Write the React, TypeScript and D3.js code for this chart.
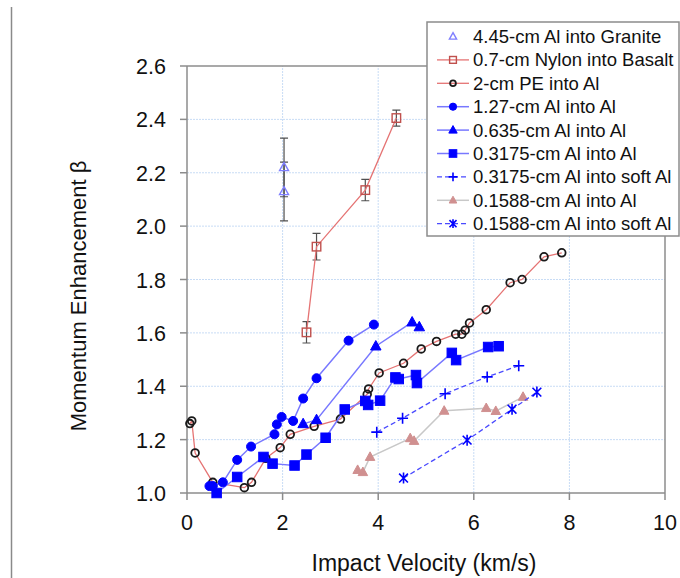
import React from "react";
import * as d3 from "d3";

// ---------- data ----------
const xTicks = [0, 2, 4, 6, 8, 10];
const yTicks = [1.0, 1.2, 1.4, 1.6, 1.8, 2.0, 2.2, 2.4, 2.6];

const graniteX = [2.03, 2.03];
const graniteY = [2.22, 2.13];
const graniteErr = [0.11, 0.11];

const nylonX = [2.5, 2.71, 3.73, 4.38];
const nylonY = [1.602, 1.923, 2.135, 2.405];
const nylonErr = [0.04, 0.05, 0.04, 0.03];

const peX = [0.06, 0.1, 0.17, 0.54, 1.2, 1.35, 1.65, 1.95, 2.16, 2.66, 3.21, 3.77, 3.8, 4.02, 4.53, 4.9, 5.22, 5.62, 5.75, 5.82, 5.91, 6.26, 6.76, 7.01, 7.47, 7.84];
const peY = [1.26, 1.27, 1.15, 1.04, 1.02, 1.04, 1.13, 1.17, 1.22, 1.25, 1.277, 1.37, 1.39, 1.45, 1.486, 1.54, 1.568, 1.595, 1.595, 1.61, 1.637, 1.687, 1.788, 1.8, 1.885, 1.9];

const al127X = [0.47, 0.54, 0.75, 1.05, 1.34, 1.83, 1.88, 1.98, 2.22, 2.43, 2.71, 3.38, 3.91];
const al127Y = [1.026, 1.026, 1.04, 1.124, 1.174, 1.22, 1.257, 1.285, 1.27, 1.354, 1.43, 1.571, 1.631];

const al0635X = [2.43, 2.71, 3.95, 4.71, 4.86];
const al0635Y = [1.259, 1.274, 1.55, 1.64, 1.622];

const al03175X = [0.62, 1.05, 1.6, 1.79, 2.25, 2.5, 2.9, 3.3, 3.73, 3.79, 4.04, 4.36, 4.43, 4.79, 4.81, 5.54, 5.63, 6.3, 6.52];
const al03175Y = [1.0, 1.06, 1.135, 1.11, 1.103, 1.144, 1.207, 1.313, 1.345, 1.33, 1.346, 1.433, 1.427, 1.442, 1.412, 1.525, 1.498, 1.547, 1.55];

const soft03175X = [3.97, 4.51, 5.4, 6.28, 6.94];
const soft03175Y = [1.228, 1.28, 1.372, 1.435, 1.477];

const al01588X = [3.57, 3.68, 3.83, 4.67, 4.75, 5.38, 6.26, 6.46, 7.03];
const al01588Y = [1.086, 1.078, 1.135, 1.205, 1.195, 1.308, 1.318, 1.307, 1.36];

const soft01588X = [4.53, 5.86, 6.8, 7.32];
const soft01588Y = [1.056, 1.198, 1.314, 1.378];

const legendLabels = [
  "4.45-cm Al into Granite",
  "0.7-cm Nylon into Basalt",
  "2-cm PE into Al",
  "1.27-cm Al into Al",
  "0.635-cm Al into Al",
  "0.3175-cm Al into Al",
  "0.3175-cm Al into soft Al",
  "0.1588-cm Al into Al",
  "0.1588-cm Al into soft Al",
];

// ---------- styles ----------
type Style = {
  marker: string;
  mFill: string;
  mStroke: string;
  mSize: number;
  line: string | null;
  dash?: string;
  lw: number;
};
const styles: Style[] = [
  { marker: "triangle", mFill: "none", mStroke: "#7f7fff", mSize: 9, line: null, lw: 1 },
  { marker: "square", mFill: "none", mStroke: "#c0504d", mSize: 8.5, line: "#e57373", lw: 1.3 },
  { marker: "circle", mFill: "none", mStroke: "#1a1a1a", mSize: 9.5, line: "#e57373", lw: 1.3 },
  { marker: "circle", mFill: "#0000ff", mStroke: "#0000ff", mSize: 9, line: "#7878ff", lw: 1.5 },
  { marker: "triangle", mFill: "#0000ff", mStroke: "#0000ff", mSize: 10.5, line: "#7878ff", lw: 1.5 },
  { marker: "square", mFill: "#0000ff", mStroke: "#0000ff", mSize: 9.5, line: "#7878ff", lw: 1.5 },
  { marker: "plus", mFill: "none", mStroke: "#0000ff", mSize: 11, line: "#4a4aff", dash: "5,3", lw: 1.3 },
  { marker: "triangle", mFill: "#d09090", mStroke: "#d09090", mSize: 9.5, line: "#c8c8c8", lw: 1.5 },
  { marker: "star", mFill: "none", mStroke: "#0000ff", mSize: 11, line: "#4a4aff", dash: "5,3", lw: 1.3 },
];

const W = 680;
const H = 578;
const x = d3.scaleLinear().domain([0, 10]).range([187, 665]);
const y = d3.scaleLinear().domain([1.0, 2.6]).range([493, 66]);
const FONT = "'Liberation Sans', Arial, Helvetica, sans-serif";

function Marker({ cx, cy, s }: { cx: number; cy: number; s: Style }) {
  const r = s.mSize / 2;
  const open = s.mFill === "none";
  const sw = open ? (s.marker === "circle" ? 1.8 : 1.4) : 1;
  if (s.marker === "circle") {
    return <circle cx={cx} cy={cy} r={open ? r - 0.9 : r} fill={s.mFill} stroke={s.mStroke} strokeWidth={sw} />;
  }
  if (s.marker === "square") {
    return <rect x={cx - r} y={cy - r} width={s.mSize} height={s.mSize} fill={s.mFill} stroke={s.mStroke} strokeWidth={sw} />;
  }
  if (s.marker === "triangle") {
    const h = s.mSize * 0.9;
    const p = `M${cx},${cy - h * 0.6}L${cx + r},${cy + h * 0.4}L${cx - r},${cy + h * 0.4}Z`;
    return <path d={p} fill={s.mFill} stroke={s.mStroke} strokeWidth={sw} />;
  }
  if (s.marker === "plus") {
    return <path d={`M${cx - r},${cy}H${cx + r}M${cx},${cy - r}V${cy + r}`} stroke={s.mStroke} strokeWidth={1.6} fill="none" />;
  }
  const k = r * 0.8;
  return (
    <path
      d={`M${cx - k},${cy - k}L${cx + k},${cy + k}M${cx + k},${cy - k}L${cx - k},${cy + k}M${cx},${cy - r}V${cy + r}`}
      stroke={s.mStroke}
      strokeWidth={1.6}
      fill="none"
    />
  );
}

function Series({ xs, ys, s }: { xs: number[]; ys: number[]; s: Style }) {
  const pts = xs.map((v, i) => [v, ys[i]] as [number, number]);
  const line = d3
    .line<[number, number]>()
    .x((d) => x(d[0]))
    .y((d) => y(d[1]));
  return (
    <g>
      {s.line && <path d={line(pts) || ""} fill="none" stroke={s.line} strokeWidth={s.lw} strokeDasharray={s.dash} />}
      {pts.map((d, i) => (
        <Marker key={i} cx={x(d[0])} cy={y(d[1])} s={s} />
      ))}
    </g>
  );
}

function ErrorBars({ xs, ys, es }: { xs: number[]; ys: number[]; es: number[] }) {
  return (
    <g stroke="#505050" strokeWidth={1.2} fill="none">
      {xs.map((v, i) => {
        const cx = x(v);
        const y1 = y(ys[i] + es[i]);
        const y2 = y(ys[i] - es[i]);
        return <path key={i} d={`M${cx},${y1}V${y2}M${cx - 4},${y1}H${cx + 4}M${cx - 4},${y2}H${cx + 4}`} />;
      })}
    </g>
  );
}

export default function App() {
  const seriesX = [graniteX, nylonX, peX, al127X, al0635X, al03175X, soft03175X, al01588X, soft01588X];
  const seriesY = [graniteY, nylonY, peY, al127Y, al0635Y, al03175Y, soft03175Y, al01588Y, soft01588Y];
  const drawOrder = [7, 8, 6, 2, 5, 4, 3, 1, 0];
  const [x0, x1] = x.range();
  const [yb, yt] = y.range();
  const legX = 427;
  const legY = 22;
  const legW = 252;
  const legH = 214;
  const rowY0 = 36.5;
  const rowStep = 23.4;
  return (
    <div style={{ position: "absolute", left: 0, top: 0, width: W, height: H, background: "#fff" }}>
      <svg width={W} height={H} style={{ display: "block" }} fontFamily={FONT}>
        <rect width={W} height={H} fill="#fff" />
        <line x1={11.5} x2={11.5} y1={7} y2={H} stroke="#8a8a8a" strokeWidth={1.5} />

        <g stroke="#c8dcf5" strokeWidth={1} strokeDasharray="2,1">
          {yTicks.filter((t) => t > 1.0 && t < 2.6).map((t) => (
            <line key={"gy" + t} x1={x0} x2={x1} y1={y(t)} y2={y(t)} />
          ))}
          {xTicks.filter((t) => t > 0 && t < 10).map((t) => (
            <line key={"gx" + t} x1={x(t)} x2={x(t)} y1={yb} y2={yt} />
          ))}
        </g>

        <g stroke="#8c8c8c" strokeWidth={1.5} fill="none">
          <line x1={x0} x2={x1} y1={yt} y2={yt} />
          <line x1={x1} x2={x1} y1={yt} y2={yb} />
          <line x1={x0} x2={x1} y1={yb} y2={yb} />
          <line x1={x0} x2={x0} y1={yt} y2={yb} />
          {yTicks.map((t) => (
            <line key={"ty" + t} x1={x0 - 7} x2={x0} y1={y(t)} y2={y(t)} />
          ))}
          {xTicks.map((t) => (
            <line key={"tx" + t} x1={x(t)} x2={x(t)} y1={yb} y2={yb + 7} />
          ))}
        </g>

        <g fontSize={21.5} fill="#111">
          {yTicks.map((t) => (
            <text key={"ly" + t} x={166} y={y(t) + 8} textAnchor="end">
              {t.toFixed(1)}
            </text>
          ))}
          {xTicks.map((t) => (
            <text key={"lx" + t} x={x(t)} y={530} textAnchor="middle">
              {t}
            </text>
          ))}
        </g>

        <text x={424} y={571} textAnchor="middle" fontSize={23} fill="#111">
          Impact Velocity (km/s)
        </text>
        <text transform={`translate(86,296) rotate(-90)`} textAnchor="middle" fontSize={22} fill="#111">
          Momentum Enhancement β
        </text>

        <ErrorBars xs={nylonX} ys={nylonY} es={nylonErr} />
        <ErrorBars xs={graniteX} ys={graniteY} es={graniteErr} />
        {drawOrder.map((i) => (
          <Series key={i} xs={seriesX[i]} ys={seriesY[i]} s={styles[i]} />
        ))}

        <rect x={legX} y={legY} width={legW} height={legH} fill="#fff" stroke="#8c8c8c" strokeWidth={1.5} />
        {legendLabels.map((lab, i) => {
          const s = styles[i];
          const ry = rowY0 + i * rowStep;
          const small: Style = { ...s, mSize: s.mSize * 0.8 };
          return (
            <g key={lab}>
              {s.line && <line x1={437} x2={469} y1={ry} y2={ry} stroke={s.line} strokeWidth={s.lw} strokeDasharray={s.dash} />}
              <Marker cx={453} cy={ry} s={small} />
              <text x={473} y={ry + 6.5} fontSize={18.5} fill="#111">
                {lab}
              </text>
            </g>
          );
        })}
      </svg>
    </div>
  );
}
